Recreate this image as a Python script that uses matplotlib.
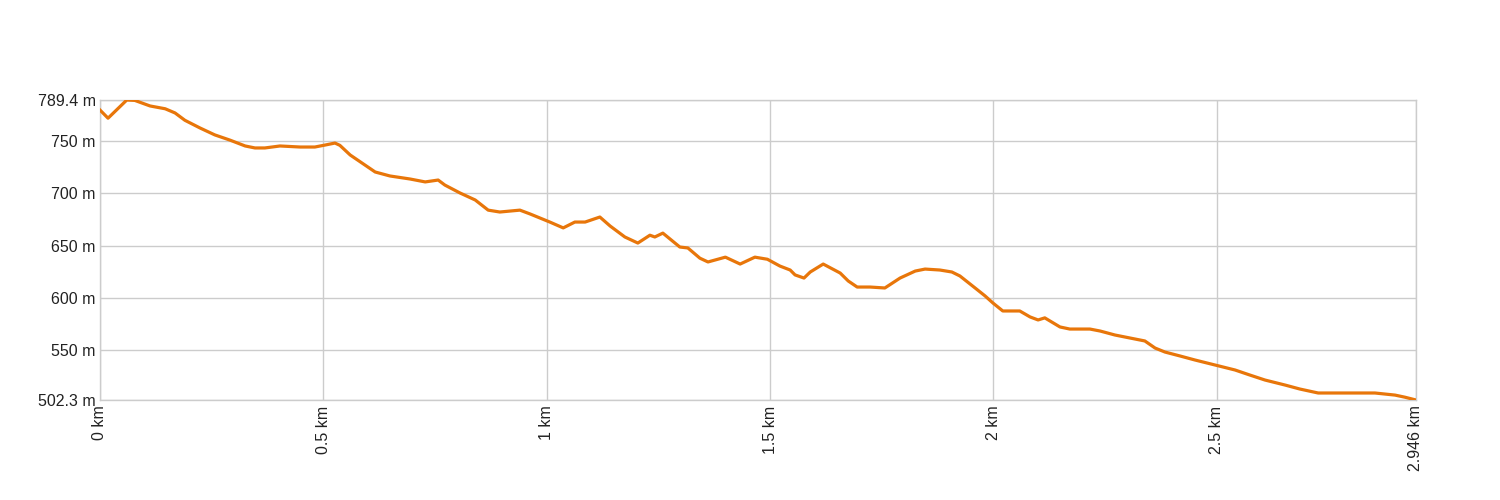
import matplotlib
matplotlib.use("Agg")
import matplotlib.pyplot as plt

plt.rcParams['font.family'] = ['Liberation Sans', 'DejaVu Sans']

distance_km = [0.0, 0.018, 0.06, 0.078, 0.112, 0.146, 0.168, 0.19, 0.224, 0.257, 0.291, 0.325,
               0.347, 0.369, 0.403, 0.448, 0.481, 0.504, 0.526, 0.537, 0.56, 0.593, 0.616, 0.649,
               0.694, 0.728, 0.757, 0.772, 0.806, 0.84, 0.869, 0.895, 0.94, 0.963, 1.007, 1.037,
               1.063, 1.086, 1.119, 1.142, 1.175, 1.204, 1.231, 1.242, 1.26, 1.298, 1.316, 1.343,
               1.361, 1.4, 1.433, 1.466, 1.494, 1.522, 1.545, 1.556, 1.576, 1.59, 1.619, 1.657,
               1.675, 1.695, 1.724, 1.757, 1.791, 1.825, 1.847, 1.88, 1.907, 1.925, 1.959, 1.981,
               1.999, 2.021, 2.059, 2.082, 2.1, 2.115, 2.149, 2.171, 2.216, 2.239, 2.272, 2.306,
               2.339, 2.362, 2.384, 2.418, 2.451, 2.496, 2.541, 2.574, 2.608, 2.653, 2.686, 2.727,
               2.776, 2.854, 2.899, 2.921, 2.946]
elevation_m = [779.8, 772.0, 789.4, 789.0, 783.7, 781.0, 777.0, 770.0, 762.6, 756.0, 751.0, 745.4,
               743.5, 743.5, 745.4, 744.4, 744.4, 746.3, 748.2, 746.0, 736.8, 727.2, 720.5, 716.7,
               713.8, 711.0, 712.8, 708.0, 700.4, 693.7, 684.0, 682.2, 684.0, 680.3, 672.6, 667.0,
               672.6, 672.6, 677.4, 668.8, 658.3, 652.5, 660.0, 658.3, 662.0, 648.7, 647.8, 638.0,
               634.4, 639.0, 632.4, 639.0, 637.0, 630.5, 626.7, 622.0, 619.0, 624.8, 632.4, 623.8,
               616.2, 610.4, 610.4, 609.5, 619.0, 625.7, 627.6, 626.7, 624.8, 621.0, 609.5, 602.0,
               595.1, 587.5, 587.5, 581.8, 578.9, 580.9, 572.2, 570.2, 570.2, 568.3, 564.5, 561.6,
               558.8, 552.0, 548.2, 544.4, 540.6, 535.8, 531.0, 526.2, 521.4, 516.6, 512.8, 509.0,
               509.0, 509.0, 507.0, 505.0, 502.3]

x_ticks = [0, 0.5, 1, 1.5, 2, 2.5, 2.946]
x_labels = ["0 km", "0.5 km", "1 km", "1.5 km", "2 km", "2.5 km", "2.946 km"]
y_ticks = [502.3, 550, 600, 650, 700, 750, 789.4]
y_labels = ["502.3 m", "550 m", "600 m", "650 m", "700 m", "750 m", "789.4 m"]

fig = plt.figure(figsize=(15, 5), dpi=100)
ax = fig.add_axes([100/1500, 0.2, 1316/1500, 0.6])

ax.plot(distance_km, elevation_m, color='#e8760a', linewidth=2.3, solid_joinstyle='round', zorder=3)

ax.set_xlim(0, 2.946)
ax.set_ylim(502.3, 789.4)
ax.set_xticks(x_ticks)
ax.set_xticklabels(x_labels, rotation=90, fontsize=11.5, color='#222222')
ax.set_yticks(y_ticks)
ax.set_yticklabels(y_labels, fontsize=11.5, color='#222222')
ax.tick_params(axis='both', length=0)
ax.tick_params(axis='x', pad=4)
ax.tick_params(axis='y', pad=3)
ax.grid(True, color='#cccccc', linewidth=1)
for s in ax.spines.values():
    s.set_color('#cccccc')
    s.set_linewidth(1)

fig.savefig('out.png', dpi=100)
